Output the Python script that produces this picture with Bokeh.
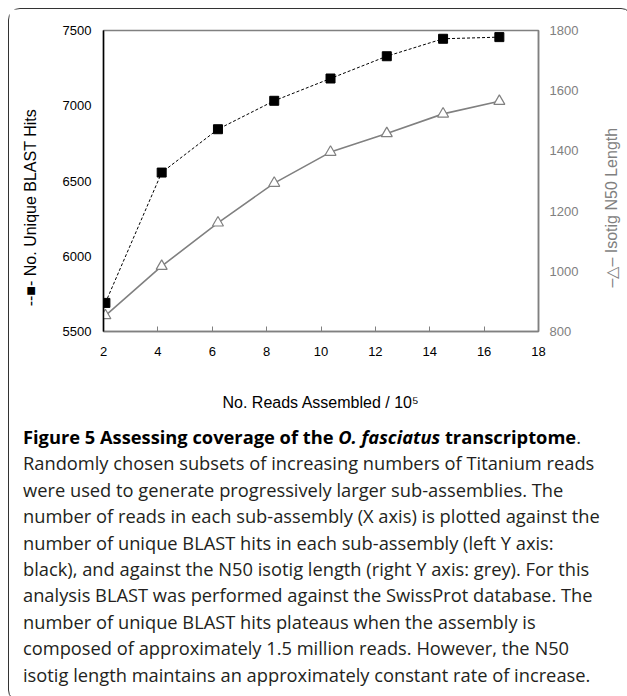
from bokeh.plotting import figure
from bokeh.models import LinearAxis, Range1d, Div, FixedTicker, Title
from bokeh.layouts import column, row
from bokeh.embed import file_html
from bokeh.resources import INLINE

# ---- data ----
reads = [2.07, 4.14, 6.21, 8.28, 10.35, 12.42, 14.49, 16.56]          # x, 10^5 reads
blast_hits = [5690, 6556, 6844, 7033, 7181, 7329, 7445, 7456]          # left axis
n50_length = [853, 1017, 1161, 1293, 1396, 1458, 1523, 1565]           # right axis
x_ticks = [2, 4, 6, 8, 10, 12, 14, 16, 18]
left_ticks = [5500, 6000, 6500, 7000, 7500]
right_ticks = [800, 1000, 1200, 1400, 1600, 1800]

GREY = "#808080"
FONT = "Liberation Sans"

p = figure(width=591, height=410, x_range=Range1d(2, 18), y_range=Range1d(5500, 7500),
           output_backend="svg", toolbar_location=None,
           min_border_left=94, min_border_right=62, min_border_top=21, min_border_bottom=88,
           x_axis_location="below", y_axis_location="left")
p.extra_y_ranges = {"n50": Range1d(800, 1800)}
p.xgrid.visible = False
p.ygrid.visible = False
p.outline_line_color = GREY
p.outline_line_width = 1.5
p.background_fill_color = "white"
p.border_fill_color = "white"

# x axis
xa = p.xaxis[0]
xa.ticker = FixedTicker(ticks=x_ticks)
xa.axis_line_color = GREY
xa.axis_line_width = 1.5
xa.major_tick_in = 5
xa.major_tick_out = 0
xa.major_tick_line_color = GREY
xa.minor_tick_line_color = None
xa.major_label_text_font = FONT
xa.major_label_text_font_size = "13px"
xa.major_label_text_color = "black"
xa.major_label_standoff = 15
xa.axis_label = "No. Reads Assembled / 10\u2075"
xa.axis_label_text_font = FONT
xa.axis_label_text_font_style = "normal"
xa.axis_label_text_font_size = "16px"
xa.axis_label_text_color = "black"
xa.axis_label_standoff = 35

# left axis
ya = p.yaxis[0]
ya.ticker = FixedTicker(ticks=left_ticks)
ya.axis_line_color = "black"
ya.axis_line_width = 1.5
ya.major_tick_in = 0
ya.major_tick_out = 0
ya.minor_tick_line_color = None
ya.major_label_text_font = FONT
ya.major_label_text_font_size = "13px"
ya.major_label_text_color = "black"
ya.major_label_standoff = 12
ya.axis_label = "--\u25A0- No. Unique BLAST Hits" + "\u00a0" * 12
ya.axis_label_text_font = FONT
ya.axis_label_text_font_style = "normal"
ya.axis_label_text_font_size = "16px"
ya.axis_label_text_color = "black"
ya.axis_label_standoff = 21

# right axis
ra = LinearAxis(y_range_name="n50", ticker=FixedTicker(ticks=right_ticks))
ra.axis_line_color = GREY
ra.axis_line_width = 1.5
ra.major_tick_in = 0
ra.major_tick_out = 0
ra.minor_tick_line_color = None
ra.major_label_text_font = FONT
ra.major_label_text_font_size = "13px"
ra.major_label_text_color = GREY
ra.major_label_standoff = 11
p.add_layout(ra, "right")

# series
p.line(reads, n50_length, y_range_name="n50", line_color=GREY, line_width=1.6)
p.scatter(reads, n50_length, y_range_name="n50", marker="triangle", size=11,
          fill_color="white", line_color=GREY, line_width=1.2)
p.line(reads, blast_hits, line_color="black", line_width=1, line_dash="3 2")
p.scatter(reads, blast_hits, marker="square", size=9, fill_color="black", line_color="black")

# narrow companion figure carrying the right-axis title (reads bottom-to-top)
p2 = figure(width=23, height=410, output_backend="svg", toolbar_location=None,
            min_border_left=0, min_border_right=0, min_border_top=21, min_border_bottom=88)
p2.axis.visible = False
p2.grid.visible = False
p2.outline_line_color = None
p2.background_fill_color = "white"
p2.border_fill_color = "white"
p2.add_layout(Title(text="\u2013\u25B3\u2013 Isotig N50 Length" + "\u00a0" * 12, align="center",
                    text_font=FONT, text_font_size="16px", text_font_style="normal",
                    text_color=GREY, standoff=0, offset=0), "left")

caption_html = (
    '<div style="font-family:\'Open Sans\',sans-serif;font-size:18.3px;line-height:26.4px;'
    'color:#231f20;white-space:nowrap;padding-left:9px;">'
    '<b style="color:#000">Figure 5 Assessing coverage of the <i>O. fasciatus</i> transcriptome</b>.<br>'
    'Randomly chosen subsets of increasing numbers of Titanium reads<br>'
    'were used to generate progressively larger sub-assemblies. The<br>'
    'number of reads in each sub-assembly (X axis) is plotted against the<br>'
    'number of unique BLAST hits in each sub-assembly (left Y axis:<br>'
    'black), and against the N50 isotig length (right Y axis: grey). For this<br>'
    'analysis BLAST was performed against the SwissProt database. The<br>'
    'number of unique BLAST hits plateaus when the assembly is<br>'
    'composed of approximately 1.5 million reads. However, the N50<br>'
    'isotig length maintains an approximately constant rate of increase.'
    '</div>'
)
cap = Div(text=caption_html, width=613, height=272)

layout = column(row(p, p2), cap,
                styles={"border": "1.5px solid #333", "border-radius": "12px",
                        "background-color": "white",
                        "margin-left": "8px", "margin-top": "8px"})

open("out.html", "w").write(file_html(layout, INLINE))
